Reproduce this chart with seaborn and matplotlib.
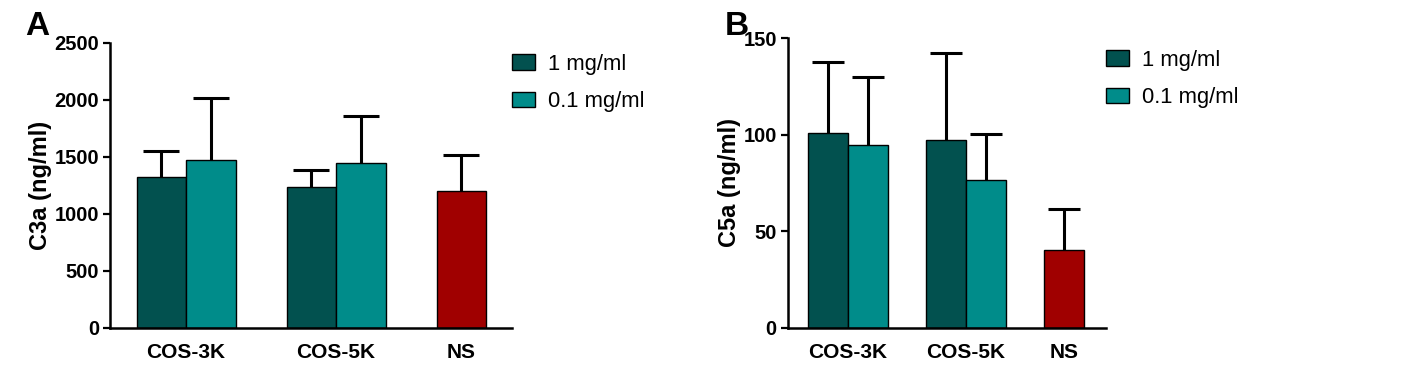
import numpy as np
import pandas as pd
import seaborn as sns
import matplotlib.pyplot as plt
from matplotlib.patches import Patch

groups = ["COS-3K", "COS-3K", "COS-5K", "COS-5K", "NS"]
doses = ["1 mg/ml", "0.1 mg/ml", "1 mg/ml", "0.1 mg/ml", "1 mg/ml"]
c3a_mean = [1327, 1474, 1237, 1445, 1204]
c3a_err = [228, 544, 152, 412, 316]
c5a_mean = [100.8, 94.7, 97.5, 76.6, 40.1]
c5a_err = [36.8, 35.1, 44.7, 23.7, 21.3]
categories = ["COS-3K", "COS-5K", "NS"]
hue_order = ["1 mg/ml", "0.1 mg/ml"]

dark = "#02514F"
light = "#008C8A"
red = "#A00000"

sns.set_theme(style="ticks")
plt.rcParams["font.family"] = ["Liberation Sans", "DejaVu Sans"]
plt.rcParams["text.color"] = "black"
plt.rcParams["axes.labelcolor"] = "black"
plt.rcParams["xtick.color"] = "black"
plt.rcParams["ytick.color"] = "black"

fig = plt.figure(figsize=(14.18, 3.68), dpi=100)
axA = fig.add_axes([0.0776, 0.1087, 0.2835, 0.7745])
axB = fig.add_axes([0.5557, 0.1095, 0.2243, 0.7865])


def draw(ax, means, errs, ylabel, yticks, ylim, xlim, width, cap, leg_anchor, lpad):
    df = pd.DataFrame({"group": groups, "dose": doses, "value": means})
    sns.barplot(df, x="group", y="value", hue="dose", order=categories,
                hue_order=hue_order, palette=[dark, light], width=width,
                errorbar=None, edgecolor="black", linewidth=1.0, ax=ax,
                legend=False, saturation=1)
    bars = [p for p in ax.patches if p.get_height() > 0]
    bars = sorted(bars, key=lambda p: p.get_x())
    xs = [p.get_x() + p.get_width() / 2 for p in bars]
    hs = [p.get_height() for p in bars]
    bar_errs = []
    for p in bars:
        if abs(p.get_x() + p.get_width() / 2 - 2) < 0.5:
            p.set_facecolor(red)
        i = int(np.argmin([abs(p.get_height() - m) for m in means]))
        bar_errs.append(errs[i])
        p.set_zorder(2)
    _, caps, _ = ax.errorbar(xs, hs, yerr=[np.zeros(len(xs)), bar_errs], fmt="none",
                             ecolor="black", elinewidth=2.2, capsize=cap,
                             capthick=2.2, zorder=1)
    caps[0].set_visible(False)

    ax.set_xlim(*xlim)
    ax.set_ylim(*ylim)
    ax.set_yticks(yticks)
    ax.set_yticklabels([str(t) for t in yticks], fontsize=14.5, fontweight="bold")
    ax.set_xticks([0, 1, 2 - width / 4])
    ax.set_xticklabels(categories, fontsize=15, fontweight="bold")
    ax.tick_params(axis="x", length=0, pad=11)
    ax.tick_params(axis="y", length=5, width=1.6, pad=3)
    ax.set_xlabel("")
    ax.set_ylabel(ylabel, fontsize=17, fontweight="bold", labelpad=lpad)
    sns.despine(ax=ax)
    for s in ["left", "bottom"]:
        ax.spines[s].set_linewidth(1.8)
        ax.spines[s].set_color("black")

    handles = [Patch(facecolor=dark, edgecolor="black", linewidth=1.0),
               Patch(facecolor=light, edgecolor="black", linewidth=1.0)]
    ax.legend(handles, hue_order, loc="upper left", bbox_to_anchor=leg_anchor,
              frameon=False, handlelength=1.05, handleheight=0.7,
              handletextpad=0.6, labelspacing=0.75, borderpad=0,
              borderaxespad=0, prop={"size": 15.8})


draw(axA, c3a_mean, c3a_err, "C3a (ng/ml)", [0, 500, 1000, 1500, 2000, 2500],
     (0, 2500), (-0.507, 2.173), 0.66, 13, (1.0, 0.962), 1.5)
draw(axB, c5a_mean, c5a_err, "C5a (ng/ml)", [0, 50, 100, 150],
     (0, 150), (-0.508, 2.186), 0.68, 11.5, (1.0, 0.96), 1.5)

fig.text(0.018, 0.905, "A", fontsize=24, fontweight="bold")
fig.text(0.511, 0.905, "B", fontsize=24, fontweight="bold")

fig.savefig("out.png", dpi=100)
